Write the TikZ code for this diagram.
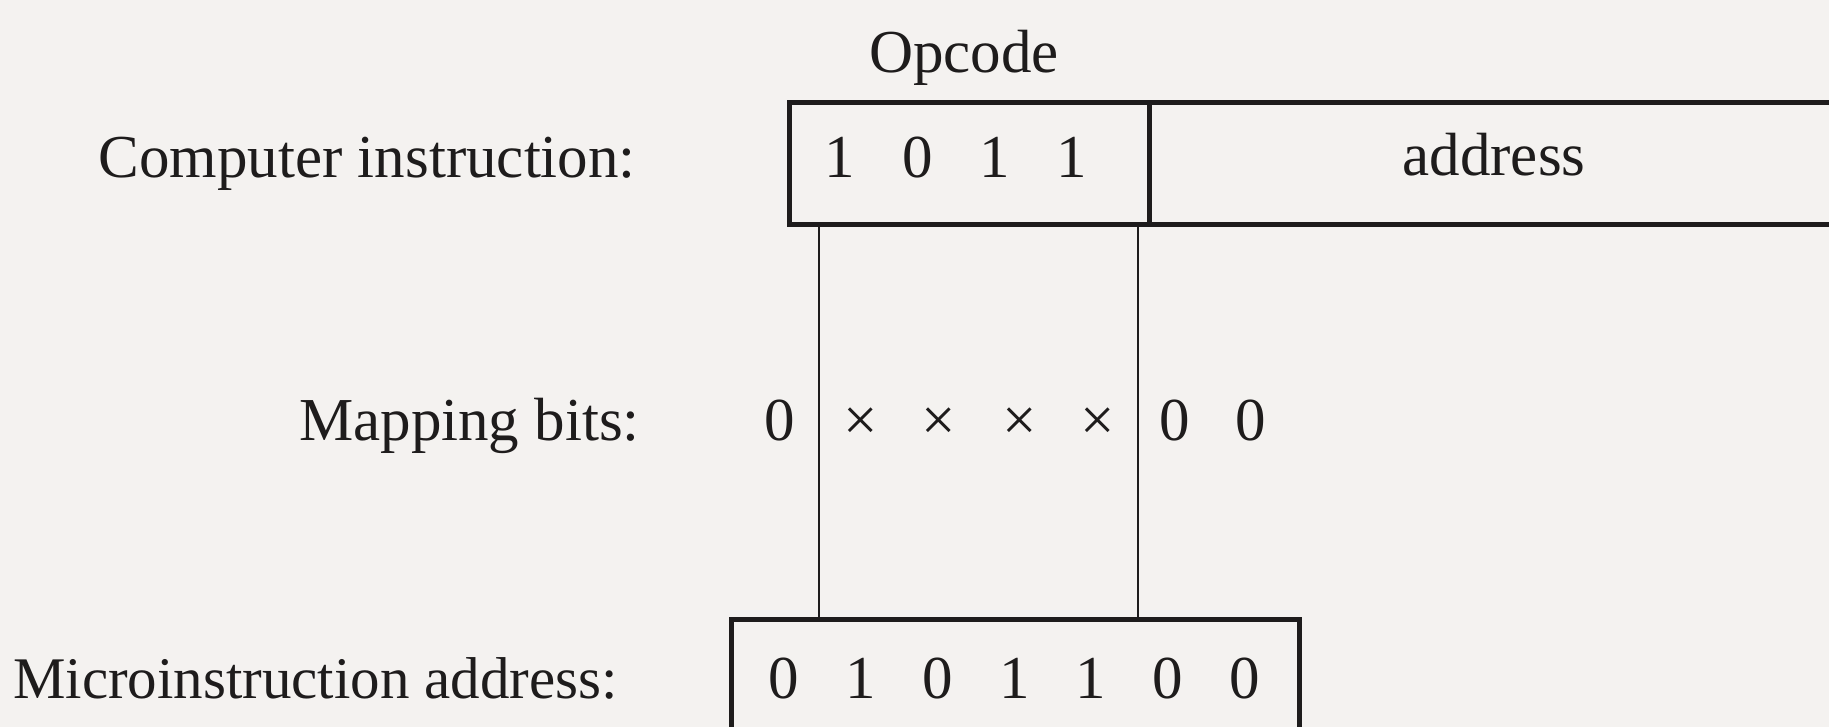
\documentclass[tikz,border=0pt]{standalone}
\usepackage{fontspec}
\setmainfont{Liberation Serif}
\begin{document}
\begin{tikzpicture}[x=1pt,y=-1pt,
  txt/.style={inner sep=0pt, text=ink, font=\fontsize{61}{70}\selectfont},
  field/.style={draw=ink, line width=5pt, inner sep=0pt, minimum height=122pt},
  wire/.style={draw=ink, line width=2.6pt}]
\definecolor{ink}{RGB}{30,28,28}
\definecolor{paper}{RGB}{244,242,240}
\useasboundingbox (0,0) rectangle (1829,727);
\fill[paper] (0,0) rectangle (1829,727);
\clip (0,0) rectangle (1829,727);
% labels
\node[txt, anchor=base] (opc) at (964,73) {Opcode};
\node[txt, anchor=base east] (ci) at (636,178) {Computer instruction:};
\node[txt, anchor=base east] (mb) at (640,440) {Mapping bits:};
\node[txt, font=\fontsize{59}{70}\selectfont, anchor=base west] (mi) at (13,698) {Microinstruction address:};
% top instruction fields
\node[field, minimum width=360pt, anchor=north west] (opfield) at (787,100) {};
\node[field, minimum width=700pt, anchor=north west] (addrfield) at (1147,100) {};
\node[txt, anchor=base] (a) at (1494,176) {address};
\foreach \d/\x [count=\i] in {1/840,0/918,1/995,1/1072}
  \node[txt, anchor=base] (op\i) at (\x,178) {\d};
% mapping bits
\foreach \d/\x [count=\i] in {0/780,×/861,×/939,×/1020,×/1098,0/1175,0/1251}
  \node[txt, anchor=base] (mp\i) at (\x,440) {\d};
% micro address box
\node[field, minimum width=568pt, minimum height=200pt, anchor=north west] (mic) at (729,617) {};
\foreach \d/\x [count=\i] in {0/784,1/861,0/938,1/1015,1/1091,0/1168,0/1245}
  \node[txt, anchor=base] (ma\i) at (\x,698) {\d};
% mapping lines
\coordinate (m1) at (819,420);
\coordinate (m2) at (1138,420);
\draw[wire] (opfield.south -| m1) -- (mic.north -| m1);
\draw[wire] (opfield.south -| m2) -- (mic.north -| m2);
\end{tikzpicture}
\end{document}
